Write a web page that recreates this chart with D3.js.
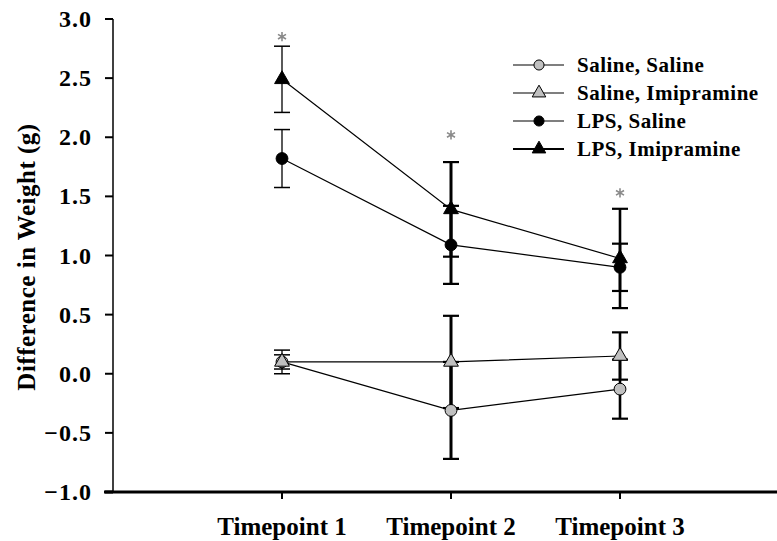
<!DOCTYPE html>
<html>
<head>
<meta charset="utf-8">
<script src="https://cdn.jsdelivr.net/npm/d3@7"></script>
<style>
body { margin: 0; background: #fff; }
svg text { font-family: "Liberation Serif", "Times New Roman", serif; font-weight: bold; fill: #000; }
</style>
</head>
<body>
<div id="chart"></div>
<script>
// Data
var timepoints = ['Timepoint 1', 'Timepoint 2', 'Timepoint 3'];
var yTicks = [-1.0, -0.5, 0.0, 0.5, 1.0, 1.5, 2.0, 2.5, 3.0];

var salineSaline = [0.10, -0.31, -0.13];
var salineSalineErr = [0.10, 0.41, 0.25];
var salineImip = [0.10, 0.10, 0.15];
var salineImipErr = [0.06, 0.39, 0.20];
var lpsSaline = [1.82, 1.09, 0.90];
var lpsSalineErr = [0.245, 0.33, 0.20];
var lpsImip = [2.49, 1.39, 0.975];
var lpsImipErr = [0.28, 0.40, 0.42];
var starValues = [2.85, 2.02, 1.53];

var seriesNames = ['Saline, Saline', 'Saline, Imipramine', 'LPS, Saline', 'LPS, Imipramine'];

var series = [
    { name: seriesNames[0], values: salineSaline, err: salineSalineErr, shape: 'circle', fill: '#c0c0c0' },
    { name: seriesNames[1], values: salineImip, err: salineImipErr, shape: 'triangle', fill: '#c0c0c0' },
    { name: seriesNames[2], values: lpsSaline, err: lpsSalineErr, shape: 'circle', fill: '#000' },
    { name: seriesNames[3], values: lpsImip, err: lpsImipErr, shape: 'triangle', fill: '#000' }
];

// error bar thickness per timepoint (thin at first one in original)
var errWidth = [1.3, 3, 2.6];

var width = 777, height = 541;

var svg = d3.select('#chart').append('svg')
    .attr('width', width)
    .attr('height', height);

var x = d3.scaleLinear().domain([0, 4]).range([113, 789]);
var y = d3.scaleLinear().domain([-1, 3]).range([492, 19]);

function symbolFor(s, size) {
    return d3.symbol()
        .type(s.shape === 'circle' ? d3.symbolCircle : d3.symbolTriangle)
        .size(size)();
}

// y axis
svg.append('line')
    .attr('x1', 113).attr('x2', 113)
    .attr('y1', y(3)).attr('y2', y(-1))
    .attr('stroke', '#000').attr('stroke-width', 1.5);

var yt = svg.append('g').selectAll('g')
    .data(yTicks)
    .enter()
    .append('g');

yt.append('line')
    .attr('x1', 105).attr('x2', 113)
    .attr('y1', function(d) { return y(d); })
    .attr('y2', function(d) { return y(d); })
    .attr('stroke', '#000')
    .attr('stroke-width', function(d) { return d === -1 ? 3 : 2; });

yt.append('text')
    .attr('x', 92)
    .attr('y', function(d) { return y(d) + 8; })
    .attr('text-anchor', 'end')
    .attr('font-size', 24)
    .attr('letter-spacing', 1)
    .text(function(d) { return d3.format('.1f')(d).replace('-', '-'); });

// y title
svg.append('text')
    .attr('transform', 'translate(35,257) rotate(-90)')
    .attr('text-anchor', 'middle')
    .attr('font-size', 25)
    .attr('letter-spacing', 0.5)
    .text('Difference in Weight (g)');

// x axis
svg.append('line')
    .attr('x1', 104).attr('x2', width)
    .attr('y1', 492).attr('y2', 492)
    .attr('stroke', '#000').attr('stroke-width', 3);

var xt = svg.append('g').selectAll('g')
    .data(timepoints)
    .enter()
    .append('g');

xt.append('line')
    .attr('x1', function(d, i) { return x(i + 1); })
    .attr('x2', function(d, i) { return x(i + 1); })
    .attr('y1', 492).attr('y2', 499)
    .attr('stroke', '#000').attr('stroke-width', 2);

xt.append('text')
    .attr('x', function(d, i) { return x(i + 1); })
    .attr('y', 535)
    .attr('text-anchor', 'middle')
    .attr('font-size', 25)
    .text(function(d) { return d; });

// connecting lines
var line = d3.line()
    .x(function(d, i) { return x(i + 1); })
    .y(function(d) { return y(d); });

svg.append('g').selectAll('path')
    .data(series)
    .enter()
    .append('path')
    .attr('d', function(s) { return line(s.values); })
    .attr('fill', 'none')
    .attr('stroke', '#000')
    .attr('stroke-width', 1.2);

// error bars
series.forEach(function(s) {
    var g = svg.append('g').selectAll('g')
        .data(s.values)
        .enter()
        .append('g');

    g.append('line')
        .attr('x1', function(d, i) { return x(i + 1); })
        .attr('x2', function(d, i) { return x(i + 1); })
        .attr('y1', function(d, i) { return y(d + s.err[i]); })
        .attr('y2', function(d, i) { return y(d - s.err[i]); })
        .attr('stroke', '#000')
        .attr('stroke-width', function(d, i) { return errWidth[i]; });

    [1, -1].forEach(function(sign) {
        g.append('line')
            .attr('x1', function(d, i) { return x(i + 1) - 8; })
            .attr('x2', function(d, i) { return x(i + 1) + 8; })
            .attr('y1', function(d, i) { return y(d + sign * s.err[i]); })
            .attr('y2', function(d, i) { return y(d + sign * s.err[i]); })
            .attr('stroke', '#000')
            .attr('stroke-width', function(d, i) { return i === 0 ? 1.5 : 2.2; });
    });
});

// markers
series.forEach(function(s) {
    svg.append('g').selectAll('path')
        .data(s.values)
        .enter()
        .append('path')
        .attr('d', symbolFor(s, s.shape === 'circle' ? 110 : 95))
        .attr('transform', function(d, i) { return 'translate(' + x(i + 1) + ',' + y(d) + ')'; })
        .attr('fill', s.fill)
        .attr('stroke', '#000')
        .attr('stroke-width', 1);
});

// significance stars
svg.append('g').selectAll('path')
    .data(starValues)
    .enter()
    .append('path')
    .attr('d', d3.symbol().type(d3.symbolAsterisk).size(60)())
    .attr('transform', function(d, i) { return 'translate(' + x(i + 1) + ',' + y(d) + ')'; })
    .attr('fill', 'none')
    .attr('stroke', '#8a8a8a')
    .attr('stroke-width', 1.6);

// legend
var legend = svg.append('g').selectAll('g')
    .data(series)
    .enter()
    .append('g')
    .attr('transform', function(d, i) { return 'translate(0,' + (65 + i * 28) + ')'; });

legend.append('line')
    .attr('x1', 513).attr('x2', 564)
    .attr('y1', 0).attr('y2', 0)
    .attr('stroke', '#000')
    .attr('stroke-width', function(d, i) { return i === 3 ? 2 : 1.2; });

legend.append('path')
    .attr('d', function(s) { return symbolFor(s, s.shape === 'circle' ? 80 : 80); })
    .attr('transform', 'translate(539,0)')
    .attr('fill', function(s) { return s.fill; })
    .attr('stroke', '#000')
    .attr('stroke-width', 1);

legend.append('text')
    .attr('x', 577)
    .attr('y', 7)
    .attr('font-size', 21)
    .attr('letter-spacing', 0.5)
    .text(function(s) { return s.name; });
</script>
</body>
</html>
